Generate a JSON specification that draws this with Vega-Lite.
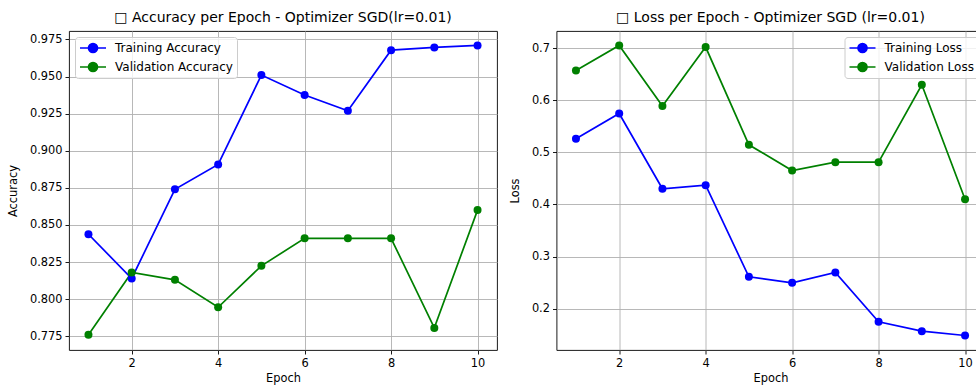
{
  "$schema": "https://vega.github.io/schema/vega-lite/v6.json",
  "background": "white",
  "padding": {"left": 7, "top": 10, "right": 0, "bottom": 0},
  "spacing": 10.5,
  "config": {
    "font": "DejaVu Sans",
    "view": {"stroke": "black", "strokeWidth": 0.9},
    "axis": {
      "labelFont": "DejaVu Sans", "labelFontSize": 11.4, "labelColor": "black",
      "titleFont": "DejaVu Sans", "titleFontSize": 11.4, "titleFontWeight": "normal", "titleColor": "black",
      "tickColor": "black", "tickSize": 4, "tickWidth": 0.9, "labelPadding": 3,
      "domain": false, "gridColor": "#b0b0b0", "gridWidth": 0.9
    },
    "axisX": {"titlePadding": 4},
    "axisY": {"titlePadding": 10.5},
    "title": {"font": "DejaVu Sans", "fontSize": 14, "fontWeight": "normal", "color": "black", "offset": 6},
    "legend": {
      "title": null, "labelFont": "DejaVu Sans", "labelFontSize": 12, "labelColor": "black",
      "symbolType": "M-1,0L1,0M-0.346,0A0.346,0.346,0,1,1,0.346,0A0.346,0.346,0,1,1,-0.346,0Z",
      "symbolSize": 676, "symbolStrokeWidth": 1.7, "labelOffset": 8,
      "padding": 4, "offset": 6, "rowPadding": 5, "clipHeight": 14,
      "fillColor": "rgba(255,255,255,0.8)", "strokeColor": "#cccccc", "cornerRadius": 3
    }
  },
  "datasets": {
    "acc": [
      {"epoch": 1, "series": "Training Accuracy", "value": 0.8437},
      {"epoch": 2, "series": "Training Accuracy", "value": 0.8139},
      {"epoch": 3, "series": "Training Accuracy", "value": 0.874},
      {"epoch": 4, "series": "Training Accuracy", "value": 0.8908},
      {"epoch": 5, "series": "Training Accuracy", "value": 0.951},
      {"epoch": 6, "series": "Training Accuracy", "value": 0.9376},
      {"epoch": 7, "series": "Training Accuracy", "value": 0.9269},
      {"epoch": 8, "series": "Training Accuracy", "value": 0.9678},
      {"epoch": 9, "series": "Training Accuracy", "value": 0.9696},
      {"epoch": 10, "series": "Training Accuracy", "value": 0.971},
      {"epoch": 1, "series": "Validation Accuracy", "value": 0.776},
      {"epoch": 2, "series": "Validation Accuracy", "value": 0.818},
      {"epoch": 3, "series": "Validation Accuracy", "value": 0.813},
      {"epoch": 4, "series": "Validation Accuracy", "value": 0.7945},
      {"epoch": 5, "series": "Validation Accuracy", "value": 0.8224},
      {"epoch": 6, "series": "Validation Accuracy", "value": 0.841},
      {"epoch": 7, "series": "Validation Accuracy", "value": 0.841},
      {"epoch": 8, "series": "Validation Accuracy", "value": 0.841},
      {"epoch": 9, "series": "Validation Accuracy", "value": 0.7806},
      {"epoch": 10, "series": "Validation Accuracy", "value": 0.86}
    ],
    "loss": [
      {"epoch": 1, "series": "Training Loss", "value": 0.526},
      {"epoch": 2, "series": "Training Loss", "value": 0.5745},
      {"epoch": 3, "series": "Training Loss", "value": 0.43},
      {"epoch": 4, "series": "Training Loss", "value": 0.437},
      {"epoch": 5, "series": "Training Loss", "value": 0.261},
      {"epoch": 6, "series": "Training Loss", "value": 0.2495},
      {"epoch": 7, "series": "Training Loss", "value": 0.2693},
      {"epoch": 8, "series": "Training Loss", "value": 0.1747},
      {"epoch": 9, "series": "Training Loss", "value": 0.1568},
      {"epoch": 10, "series": "Training Loss", "value": 0.1484},
      {"epoch": 1, "series": "Validation Loss", "value": 0.657},
      {"epoch": 2, "series": "Validation Loss", "value": 0.705},
      {"epoch": 3, "series": "Validation Loss", "value": 0.589},
      {"epoch": 4, "series": "Validation Loss", "value": 0.702},
      {"epoch": 5, "series": "Validation Loss", "value": 0.5144},
      {"epoch": 6, "series": "Validation Loss", "value": 0.465},
      {"epoch": 7, "series": "Validation Loss", "value": 0.481},
      {"epoch": 8, "series": "Validation Loss", "value": 0.481},
      {"epoch": 9, "series": "Validation Loss", "value": 0.6296},
      {"epoch": 10, "series": "Validation Loss", "value": 0.41}
    ]
  },
  "resolve": {"scale": {"color": "independent"}, "legend": {"color": "independent"}},
  "hconcat": [
    {
      "width": 428, "height": 319,
      "title": {"text": "□ Accuracy per Epoch - Optimizer SGD(lr=0.01)"},
      "data": {"name": "acc"},
      "mark": {"type": "line", "strokeWidth": 1.7, "point": {"filled": true, "size": 64, "opacity": 1}},
      "encoding": {
        "x": {"field": "epoch", "type": "quantitative", "scale": {"domain": [0.55, 10.45], "nice": false, "zero": false},
              "axis": {"values": [2, 4, 6, 8, 10], "format": "d", "title": "Epoch"}},
        "y": {"field": "value", "type": "quantitative", "scale": {"domain": [0.7657, 0.9807], "nice": false, "zero": false},
              "axis": {"values": [0.775, 0.8, 0.825, 0.85, 0.875, 0.9, 0.925, 0.95, 0.975], "format": ".3f", "title": "Accuracy"}},
        "color": {"field": "series", "type": "nominal",
                  "scale": {"domain": ["Training Accuracy", "Validation Accuracy"], "range": ["blue", "green"]},
                  "legend": {"orient": "top-left",
                             "encode": {"symbols": {"update": {"fill": {"signal": "datum.value === 'Training Accuracy' ? 'blue' : 'green'"}}}}}}
      }
    },
    {
      "width": 428, "height": 319,
      "title": {"text": "□ Loss per Epoch - Optimizer SGD (lr=0.01)"},
      "data": {"name": "loss"},
      "mark": {"type": "line", "strokeWidth": 1.7, "point": {"filled": true, "size": 64, "opacity": 1}},
      "encoding": {
        "x": {"field": "epoch", "type": "quantitative", "scale": {"domain": [0.55, 10.45], "nice": false, "zero": false},
              "axis": {"values": [2, 4, 6, 8, 10], "format": "d", "title": "Epoch"}},
        "y": {"field": "value", "type": "quantitative", "scale": {"domain": [0.1206, 0.7328], "nice": false, "zero": false},
              "axis": {"values": [0.2, 0.3, 0.4, 0.5, 0.6, 0.7], "format": ".1f", "title": "Loss"}},
        "color": {"field": "series", "type": "nominal",
                  "scale": {"domain": ["Training Loss", "Validation Loss"], "range": ["blue", "green"]},
                  "legend": {"orient": "top-right",
                             "encode": {"symbols": {"update": {"fill": {"signal": "datum.value === 'Training Loss' ? 'blue' : 'green'"}}}}}}
      }
    }
  ]
}
